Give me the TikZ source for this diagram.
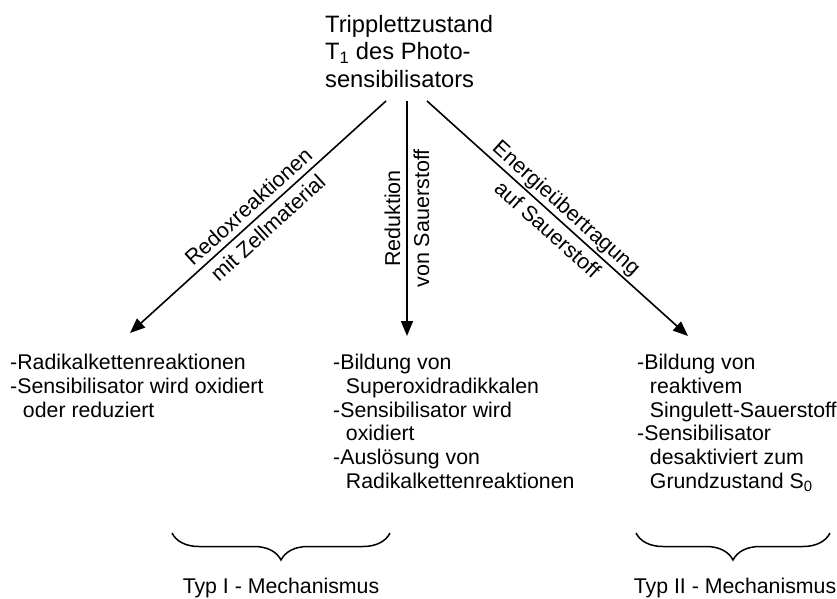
\documentclass[tikz,border=0pt]{standalone}
\usepackage{fontspec}
\setmainfont{Liberation Sans}
\usetikzlibrary{arrows.meta,decorations.pathreplacing}
\newcommand{\einr}{\hspace*{0.6em}}

\tikzset{
  txt/.style={anchor=north west, inner sep=0pt, align=left, font=\fontsize{21.3}{23.7}\selectfont},
  pfeil/.style={line width=1.6pt, -{Triangle[length=15pt,width=12pt]}},
  pfeiltext/.style={midway, sloped, align=center, inner sep=0pt, font=\fontsize{21.5}{29}\selectfont},
  klammer/.style={line width=1.5pt, decorate, decoration={brace, mirror, amplitude=27pt}},
  typ/.style={anchor=base, inner sep=0pt, font=\fontsize{21.3}{23.7}\selectfont}
}

\begin{document}
\begin{tikzpicture}[x=1pt, y=-1pt]
  %%%%% START %%%%%
  \useasboundingbox (0,0) rectangle (837,599);

  \node[txt, font=\fontsize{23.7}{27.5}\selectfont] (t1) at (325,15) {Tripplettzustand\\T\textsubscript{1} des Photo-\\sensibilisators};

  \coordinate (s1) at (386,101);
  \coordinate (s2) at (407,101);
  \coordinate (s3) at (427,101);
  \coordinate (e1) at (130,333);
  \coordinate (e2) at (407,336);
  \coordinate (e3) at (688,336);

  \draw[pfeil] (s1) -- node[pfeiltext] (l1) {Redoxreaktionen\\mit Zellmaterial} (e1);
  \draw[pfeil] (s2) -- node[pfeiltext, sloped=false, rotate=90] (l2) {Reduktion\\von Sauerstoff} (e2);
  \draw[pfeil] (s3) -- node[pfeiltext] (l3) {Energieübertragung\\auf Sauerstoff} (e3);

  \node[txt] (b1) at (10,354) {-Radikalkettenreaktionen\\-Sensibilisator wird oxidiert\\\einr oder reduziert};
  \node[txt] (b2) at (333,354) {-Bildung von\\\einr Superoxidradikkalen\\-Sensibilisator wird\\\einr oxidiert\\-Auslösung von\\\einr Radikalkettenreaktionen};
  \node[txt] (b3) at (637,354) {-Bildung von\\\einr reaktivem\\\einr Singulett-Sauerstoff\\-Sensibilisator\\\einr desaktiviert zum\\\einr Grundzustand S\textsubscript{0}};

  \coordinate (k1a) at (172,533);
  \coordinate (k1b) at (390,533);
  \draw[klammer] (k1a) -- (k1b);
  \node[typ] (typ1) at (281,593) {Typ I - Mechanismus};

  \coordinate (k2a) at (636,533);
  \coordinate (k2b) at (830,533);
  \draw[klammer] (k2a) -- (k2b);
  \node[typ] (typ2) at (735,593) {Typ II - Mechanismus};
  %%%%% END %%%%%
\end{tikzpicture}
\end{document}
